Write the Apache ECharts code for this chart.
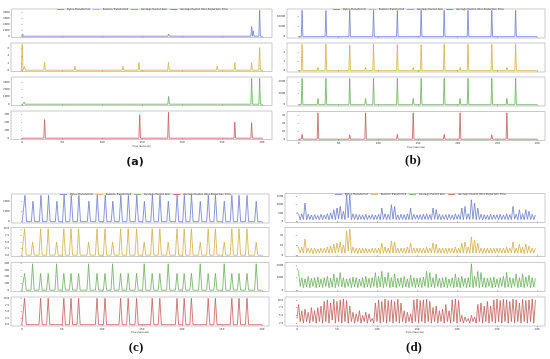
<!DOCTYPE html>
<html><head><meta charset="utf-8">
<script src="https://cdn.jsdelivr.net/npm/echarts@6/dist/echarts.min.js"></script>
<style>html,body{margin:0;padding:0;background:#fff}#c{width:550px;height:359px}</style>
</head><body><div id="c"></div>
<script>
const seriesNames = ['Bytes Transferred','Packets Transferred','Average Packet Size','Average Packet Inter-Departure Time'];
const seriesColors = ['#6d7fcc','#d2b048','#6cae5e','#c0605a'];
const xTicks = [0,50,100,150,200,250,300];

// ---- panel (a): spike times (s) and spike heights
const aBytesT = [0, 2, 28, 146, 183, 266, 287, 289, 297];
const aBytesV = [380, 200, 110, 150, 380, 90, 1600, 900, 4300];
const aPktT = [0, 3, 28, 66, 126, 146, 183, 244, 266, 287, 297];
const aPktV = [7.2, 1, 2.2, 1.1, 1.1, 2.1, 2.2, 1.1, 2.1, 2.1, 6.3];
const aAvgT = [2, 28, 66, 126, 146, 183, 245, 266, 287, 297];
const aAvgV = [300, 200, 100, 100, 150, 1050, 80, 150, 3500, 3500];
const aIdtT = [28, 147, 183, 266, 287, 297];
const aIdtV = [230, 290, 320, 200, 190, 10];

// ---- panel (b)
const bT = [4, 24, 34, 64, 84, 94, 124, 144, 154, 183, 203, 213, 243, 262, 273];
const bBytesV = [12800, 400, 12700, 12800, 400, 12800, 12700, 400, 12800, 12800, 400, 12700, 12800, 400, 12800];
const bPktV = [5.6, 0.7, 5.6, 5.5, 0.7, 5.6, 5.6, 0.7, 5.5, 5.6, 0.7, 5.6, 5.6, 0.7, 5.6];
const bAvgV = [2300, 550, 2300, 2300, 550, 2300, 2300, 550, 2300, 2300, 550, 2300, 2300, 550, 2300];
const bIdtV = [6, 33, 1.5, 5.5, 33, 1.5, 6, 33, 1.5, 6, 33, 1.5, 5.5, 33, 1.5];

// ---- panel (c)
const cT = [3.5, 13.5, 23.5, 33, 43.5, 52.5, 61.5, 71, 83.5, 94, 104, 113.5, 123.5, 133, 143.5, 153, 163, 172.5, 183, 194, 203, 212, 223, 233, 242, 253, 262.5, 271.5, 281.5, 293];
const cBytesV = [2530,1960,2530,2520,1960,2530,2530,2520,1960,2530,2530,1960,2530,2520,2530,1960,2530,2530,1960,2530,2520,2530,1960,2530,2530,1960,2530,2530,2520,1960];
const cPktV = [10,5,10,10,5,10,10,10,5,10,10,5,10,10,10,5,10,10,5,10,10,10,5,10,10,5,10,10,10,5];
const cAvgV = [250,392,250,250,392,250,250,250,392,250,250,392,250,250,250,392,250,250,392,250,250,250,392,250,250,392,250,250,250,392];
const cIdtV = [10,0,10,10,0,10,10,10,0,10,10,0,10,10,10,0,10,10,0,10,10,10,0,10,10,0,10,10,10,0];

// ---- panel (d): one value every 2 s from t = 0
const dBytes = [550,420,80,450,100,1100,90,420,110,380, 80,400,120,350,90,420,100,380,130,450,
 90,500,120,700,100,800,150,900,120,600, 100,1600,200,1600,90,450,100,420,80,400,
 110,380,90,420,100,350,120,400,90,380, 100,420,80,800,110,450,90,420,100,1000,
 120,900,100,380,90,420,110,400,80,450, 100,800,90,420,120,380,100,400,90,420,
 110,450,100,400,90,800,120,700,100,420, 90,380,110,400,80,420,100,380,90,450,
 120,400,100,800,90,900,110,450,100,1300, 120,1100,90,800,100,420,80,400,110,380,
 90,420,100,380,120,400,90,420,100,380, 110,450,90,400,100,900,120,420,90,700,
 100,450,80,700,110,600,90,420,100,380];
const dPackets = [10,7,2,8,2,16,2,7,2,7, 1.5,7,2,6,2,7,2,7,2.5,8,
 2,9,2,11,2,12,3,13,2,10, 2,24,4,26,2,8,2,7,1.5,7,
 2,7,2,7,2,6,2,7,2,7, 2,7,1.5,12,2,8,2,7,2,14,
 2,13,2,7,2,7,2,7,1.5,8, 2,12,2,7,2,7,2,7,2,7,
 2,8,2,7,2,12,2,11,2,7, 2,7,2,7,1.5,7,2,7,2,8,
 2,7,2,12,2,13,2,8,2,18, 2,15,2,12,2,7,1.5,7,2,7,
 2,7,2,7,2,7,2,7,2,7, 2,8,2,7,2,13,2,7,2,11,
 2,8,1.5,11,2,9,2,7,2,7];
const dAvgSize = [1700,1500,300,1000,200,900,250,1100,200,950, 300,1000,200,1050,250,900,200,1000,300,1100,
 200,950,250,1300,200,1000,300,1400,250,1000, 200,900,300,950,200,1050,250,1000,200,900,
 300,1000,200,1100,250,950,200,1000,300,1400, 200,1100,250,1500,200,1050,300,1400,200,1000,
 250,1300,200,950,300,1000,200,1100,250,900, 200,1200,300,1000,200,950,250,1000,200,1050,
 300,1500,200,1400,250,1000,200,1300,300,950, 200,1000,250,1050,200,900,300,1000,200,1300,
 250,1000,200,1100,300,950,200,1000,250,2100, 200,1100,300,1500,200,1400,250,1000,200,950,
 300,1000,200,1050,250,900,200,1000,300,1100, 200,1400,250,1000,200,950,300,1300,200,1000,
 250,1300,200,1050,300,1200,200,1000,250,950];
const dIdt = [4.0,8.5,3.0,6.5,2.5,7.0,3.0,6.0,2.5,7.5, 3.0,6.5,2.5,7.5,3.0,8.0,2.5,9.5,3.0,10.0,
 2.5,9.0,3.5,10.2,2.5,9.5,3.0,10.0,2.5,10.3, 3.0,9.8,2.5,8.0,3.0,6.0,2.5,5.5,3.0,6.5,
 2.5,5.0,3.0,6.0,2.5,5.5,3.0,4.0,2.5,9.0, 3.0,10.0,2.5,9.5,3.0,10.3,2.5,9.8,3.0,10.0,
 2.5,9.5,3.0,10.2,2.5,9.0,3.0,6.5,2.5,6.0, 3.0,5.5,2.5,10.0,3.0,10.3,2.5,9.8,3.0,10.0,
 2.5,10.2,3.0,9.5,2.5,7.5,3.0,8.0,2.5,6.5, 3.0,7.0,2.5,8.5,3.0,6.5,2.5,10.0,3.0,10.3,
 2.5,9.8,3.0,5.0,2.5,4.5,3.0,4.0,2.5,5.0, 3.0,4.5,2.5,8.5,3.0,9.0,2.5,8.0,3.0,9.5,
 2.5,8.0,3.0,10.0,2.5,10.3,3.0,9.8,2.5,10.2, 3.0,10.0,2.5,9.5,3.0,10.3,2.5,10.0,3.0,9.0,
 2.5,10.2,3.0,9.8,2.5,10.0,3.0,10.3,2.5,10.0];
const dStep = 2;

// ---- helpers: spike lists on a zero baseline, and sampled series
function spikeSeries(times, vals, halfW, endT) {
  const pts = [[0, 0]];
  times.forEach((t, k) => { pts.push([t - halfW, 0], [t, vals[k]], [t + halfW, 0]); });
  pts.push([endT, 0]);
  pts.sort((p, q) => p[0] - q[0]);
  return pts;
}
function sampled(vals) { return vals.map((v, i) => [i * dStep, v]); }

const panels = [
  { left: 11, right: 278, tops: [9, 43, 77, 111], h: 28.5, xmin: -14, xmax: 312.5, legendLeft: 52, legendTop: 3,
    label: '(a)', labelX: 135, labelY: 162, labelFont: 'bold 11px "DejaVu Sans"',
    data: [spikeSeries(aBytesT, aBytesV, 1, 300), spikeSeries(aPktT, aPktV, 1, 300), spikeSeries(aAvgT, aAvgV, 1, 300), spikeSeries(aIdtT, aIdtV, 1, 300)],
    y: [{ ticks: [0, 1000, 2000, 3000, 4000], min: -215, max: 4515 }, { ticks: [0, 2, 4, 6], min: -0.36, max: 7.56 },
        { ticks: [0, 1000, 2000, 3000], min: -175, max: 3675 }, { ticks: [0, 100, 200, 300], min: -16, max: 336 }] },
  { left: 287, right: 5, tops: [9, 43, 77, 111.5], h: 29, xmin: -15, xmax: 310, legendLeft: 328, legendTop: 3,
    label: '(b)', labelX: 413, labelY: 161, labelFont: 'bold 13px "Liberation Serif"',
    data: [spikeSeries(bT, bBytesV, 1, 300), spikeSeries(bT, bPktV, 1, 300), spikeSeries(bT, bAvgV, 1, 300), spikeSeries(bT, bIdtV, 1, 300)],
    y: [{ ticks: [0, 5000, 10000], min: -640, max: 13440 }, { ticks: [0, 2, 4], min: -0.28, max: 5.88 },
        { ticks: [0, 1000, 2000], min: -115, max: 2415 }, { ticks: [0, 10, 20, 30], min: -1.65, max: 34.65 }] },
  { left: 11, right: 281, tops: [194, 227.5, 262.5, 297], h: 29, xmin: -13.5, xmax: 309, legendLeft: 55, legendTop: 188,
    label: '(c)', labelX: 136, labelY: 348, labelFont: 'bold 13px "Liberation Serif"',
    data: [spikeSeries(cT, cBytesV, 2, 300), spikeSeries(cT, cPktV, 2, 300), spikeSeries(cT, cAvgV, 2, 300), spikeSeries(cT, cIdtV, 2, 300)],
    y: [{ ticks: [0, 1000, 2000], min: -127, max: 2657 }, { ticks: [0, 2.5, 5, 7.5, 10], min: -0.5, max: 10.5, fmt: 1 },
        { ticks: [0, 100, 200, 300, 400], min: -20, max: 412 }, { ticks: [0, 2.5, 5, 7.5, 10], min: -0.5, max: 10.5, fmt: 1 }] },
  { left: 285, right: 5, tops: [193.5, 227.5, 262.5, 297], h: 29, xmin: -15, xmax: 310, legendLeft: 330, legendTop: 188,
    label: '(d)', labelX: 414, labelY: 348, labelFont: 'bold 13px "Liberation Serif"',
    data: [sampled(dBytes), sampled(dPackets), sampled(dAvgSize), sampled(dIdt)],
    y: [{ ticks: [0, 500, 1000, 1500], min: -80, max: 1680 }, { ticks: [0, 10, 20], min: -1.3, max: 27.3 },
        { ticks: [0, 1000, 2000], min: -105, max: 2205 }, { ticks: [2.5, 5, 7.5, 10], min: 1.58, max: 10.92, fmt: 1 }] }
];

const FONT = 'DejaVu Sans';
const grids = [], xAxes = [], yAxes = [], series = [], legends = [], graphics = [];
panels.forEach((p, pi) => {
  for (let k = 0; k < 4; k++) {
    const gi = grids.length;
    const bottom = k === 3;
    grids.push({ left: p.left, right: p.right, top: p.tops[k], height: p.h, show: true,
      borderColor: '#b4b4b4', borderWidth: 0.7, backgroundColor: 'transparent' });
    xAxes.push({ type: 'value', gridIndex: gi, min: p.xmin, max: p.xmax,
      axisLine: { show: false }, splitLine: { show: false },
      axisTick: { show: true, customValues: xTicks, length: 1.2, lineStyle: { color: '#666', width: 0.5 } },
      axisLabel: { show: bottom, customValues: xTicks, fontSize: 2.6, color: '#333', margin: 1.8, fontFamily: FONT },
      name: bottom ? 'Time (Seconds)' : '', nameLocation: 'middle', nameGap: 5.2,
      nameTextStyle: { fontSize: 2.4, color: '#333', fontFamily: FONT } });
    const yc = p.y[k];
    yAxes.push({ type: 'value', gridIndex: gi, min: yc.min, max: yc.max,
      axisLine: { show: false }, splitLine: { show: false },
      axisTick: { show: true, customValues: yc.ticks, length: 1.2, lineStyle: { color: '#666', width: 0.5 } },
      axisLabel: { customValues: yc.ticks, fontSize: 2.6, color: '#333', margin: 1.8, fontFamily: FONT,
        formatter: v => yc.fmt ? Number(v).toFixed(yc.fmt) : String(v) } });
    series.push({ type: 'line', name: seriesNames[k], xAxisIndex: gi, yAxisIndex: gi, data: p.data[k],
      showSymbol: false, symbol: 'none', silent: true, animation: false,
      lineStyle: { width: 0.8, color: seriesColors[k] }, itemStyle: { color: seriesColors[k] } });
  }
  legends.push({ data: seriesNames, left: p.legendLeft, top: p.legendTop, orient: 'horizontal',
    icon: 'rect', itemWidth: 7, itemHeight: 0.8, itemGap: 3, selectedMode: false,
    textStyle: { fontSize: 2.6, color: '#333', fontFamily: FONT, padding: [0, 0, 0, -2] } });
  graphics.push({ type: 'text', x: p.labelX, y: p.labelY,
    style: { text: p.label, font: p.labelFont, fill: '#111', align: 'center', verticalAlign: 'middle' } });
});

const chart = echarts.init(document.getElementById('c'), null, { renderer: 'canvas' });
chart.setOption({ animation: false, backgroundColor: '#fff', grid: grids, xAxis: xAxes, yAxis: yAxes,
  series: series, legend: legends, graphic: graphics });
</script></body></html>
